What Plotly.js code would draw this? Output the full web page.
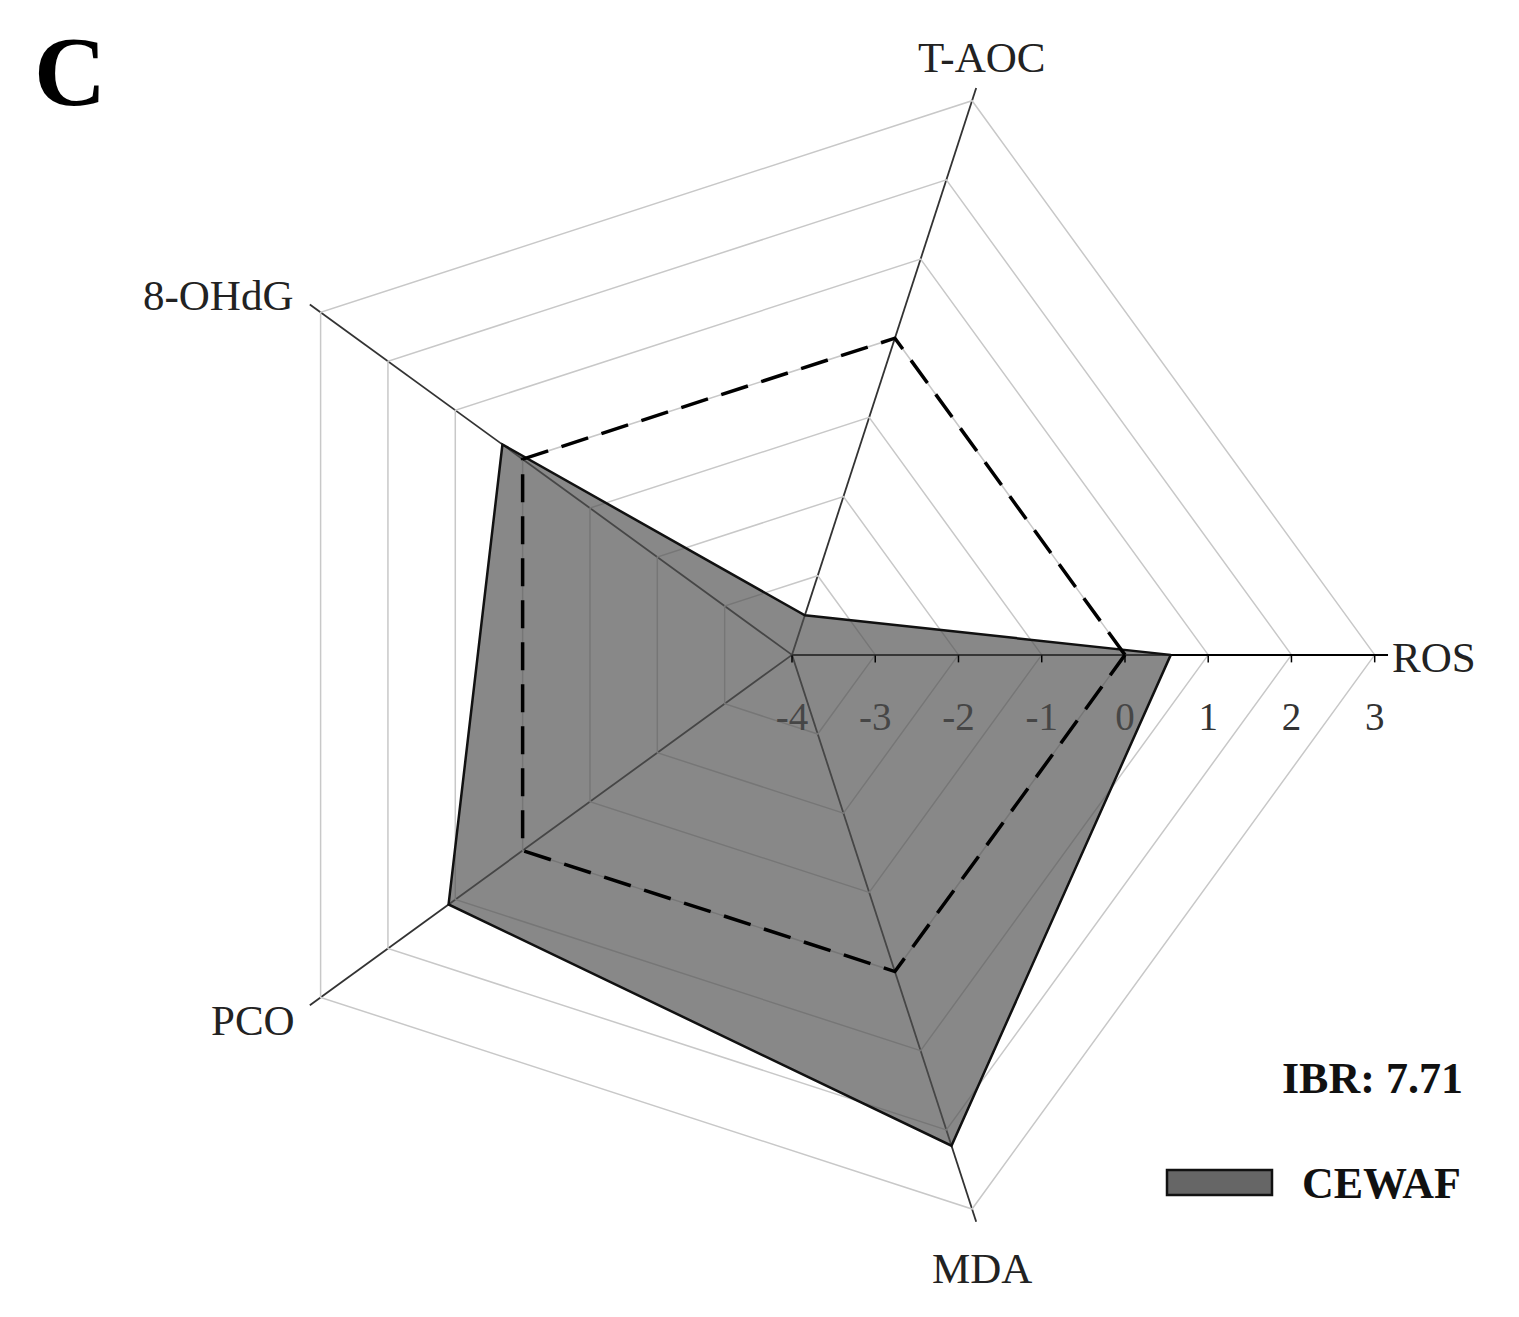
<!DOCTYPE html>
<html>
<head>
<meta charset="utf-8">
<script src="https://cdn.plot.ly/plotly-3.0.1.min.js"></script>
<style>html,body{margin:0;padding:0;background:#fff;}#chart{width:1519px;height:1317px;}</style>
</head>
<body>
<div id="chart"></div>
<script>
// Data
const axisLabels = ["ROS", "T-AOC", "8-OHdG", "PCO", "MDA"];
const cewafValues = [0.55, -3.5, 0.3, 1.1, 2.2];
const controlValues = [0, 0, 0, 0, 0];
const radialTicks = [-4, -3, -2, -1, 0, 1, 2, 3];
const seriesName = "CEWAF";
const ibrText = "IBR: 7.71";
const panelLetter = "C";

const close = a => a.concat([a[0]]);
const FONT = "Liberation Serif, Times New Roman, serif";
const W = 1519, H = 1317;
const DOMAIN = {x: [0.129, 0.9138], y: [0.0502, 0.9553]};
const RANGE = [-4, 3.16];

const traces = [
  {
    type: "scatterpolar",
    r: close(cewafValues),
    theta: close(axisLabels),
    fill: "toself",
    fillcolor: "rgba(80,80,80,0.68)",
    line: {color: "#111", width: 2.5},
    mode: "lines",
    name: seriesName,
    showlegend: false
  },
  {
    type: "scatterpolar",
    r: close(controlValues),
    theta: close(axisLabels),
    mode: "lines",
    line: {color: "#000", width: 3.5, dash: "28px,14px"},
    name: "Control",
    showlegend: false
  },
  // empty trace only to host the overlay subplot that draws the short tick marks
  {type: "scatterpolar", r: [], theta: [], subplot: "polar2", showlegend: false, hoverinfo: "skip"}
];

// Category label placement (layout only): centre of each label in pixels
const labelPos = [[1434, 657], [981, 58], [218, 296], [253, 1020], [982, 1268]];
const labelAnnotations = axisLabels.map((t, i) => ({
  xref: "paper", yref: "paper",
  x: labelPos[i][0] / W, y: 1 - labelPos[i][1] / H,
  text: t, showarrow: false, xanchor: "center", yanchor: "middle",
  font: {family: FONT, size: 43, color: "#222"}
}));

const layout = {
  width: W,
  height: H,
  margin: {l: 0, r: 0, t: 0, b: 0},
  paper_bgcolor: "#fff",
  showlegend: false,
  font: {family: FONT, color: "#222"},
  polar: {
    domain: DOMAIN,
    gridshape: "linear",
    bgcolor: "rgba(0,0,0,0)",
    radialaxis: {
      range: RANGE,
      tickvals: radialTicks,
      ticktext: radialTicks.map(String),
      angle: 0,
      ticks: "outside",
      ticklen: 27,
      tickcolor: "rgba(0,0,0,0)",
      showline: true,
      linecolor: "#000",
      linewidth: 2,
      gridcolor: "#c8c8c8",
      gridwidth: 1.5,
      layer: "below traces",
      tickfont: {family: FONT, size: 39, color: "#333"}
    },
    angularaxis: {
      direction: "counterclockwise",
      rotation: 0,
      showline: false,
      showticklabels: false,
      gridcolor: "#333",
      gridwidth: 1.8,
      ticks: "",
      layer: "below traces"
    }
  },
  polar2: {
    domain: DOMAIN,
    gridshape: "linear",
    bgcolor: "rgba(0,0,0,0)",
    radialaxis: {
      range: RANGE,
      tickvals: radialTicks,
      angle: 0,
      ticks: "outside",
      ticklen: 7,
      tickwidth: 1.5,
      tickcolor: "#000",
      showticklabels: false,
      showline: false,
      showgrid: false
    },
    angularaxis: {
      direction: "counterclockwise",
      rotation: 0,
      showline: false,
      showgrid: false,
      showticklabels: false,
      ticks: ""
    }
  },
  annotations: labelAnnotations.concat([
    {xref: "paper", yref: "paper", x: 70/W, y: 1 - 72/H, text: "<b>" + panelLetter + "</b>",
     showarrow: false, font: {family: FONT, size: 100, color: "#000"}, xanchor: "center", yanchor: "middle"},
    {xref: "paper", yref: "paper", x: 1372/W, y: 1 - 1078/H, text: "<b>" + ibrText + "</b>",
     showarrow: false, font: {family: FONT, size: 44, color: "#111"}, xanchor: "center", yanchor: "middle"},
    {xref: "paper", yref: "paper", x: 1300/W, y: 1 - 1183/H, text: "<b>" + seriesName + "</b>",
     showarrow: false, font: {family: FONT, size: 44, color: "#111"}, xanchor: "left", yanchor: "middle"}
  ]),
  shapes: [
    {type: "rect", xref: "paper", yref: "paper",
     x0: 1167/W, x1: 1272/W, y0: 1 - 1195/H, y1: 1 - 1170/H,
     fillcolor: "#666", line: {color: "#111", width: 2.5}}
  ]
};

Plotly.newPlot("chart", traces, layout, {displayModeBar: false, staticPlot: true});
</script>
</body>
</html>
